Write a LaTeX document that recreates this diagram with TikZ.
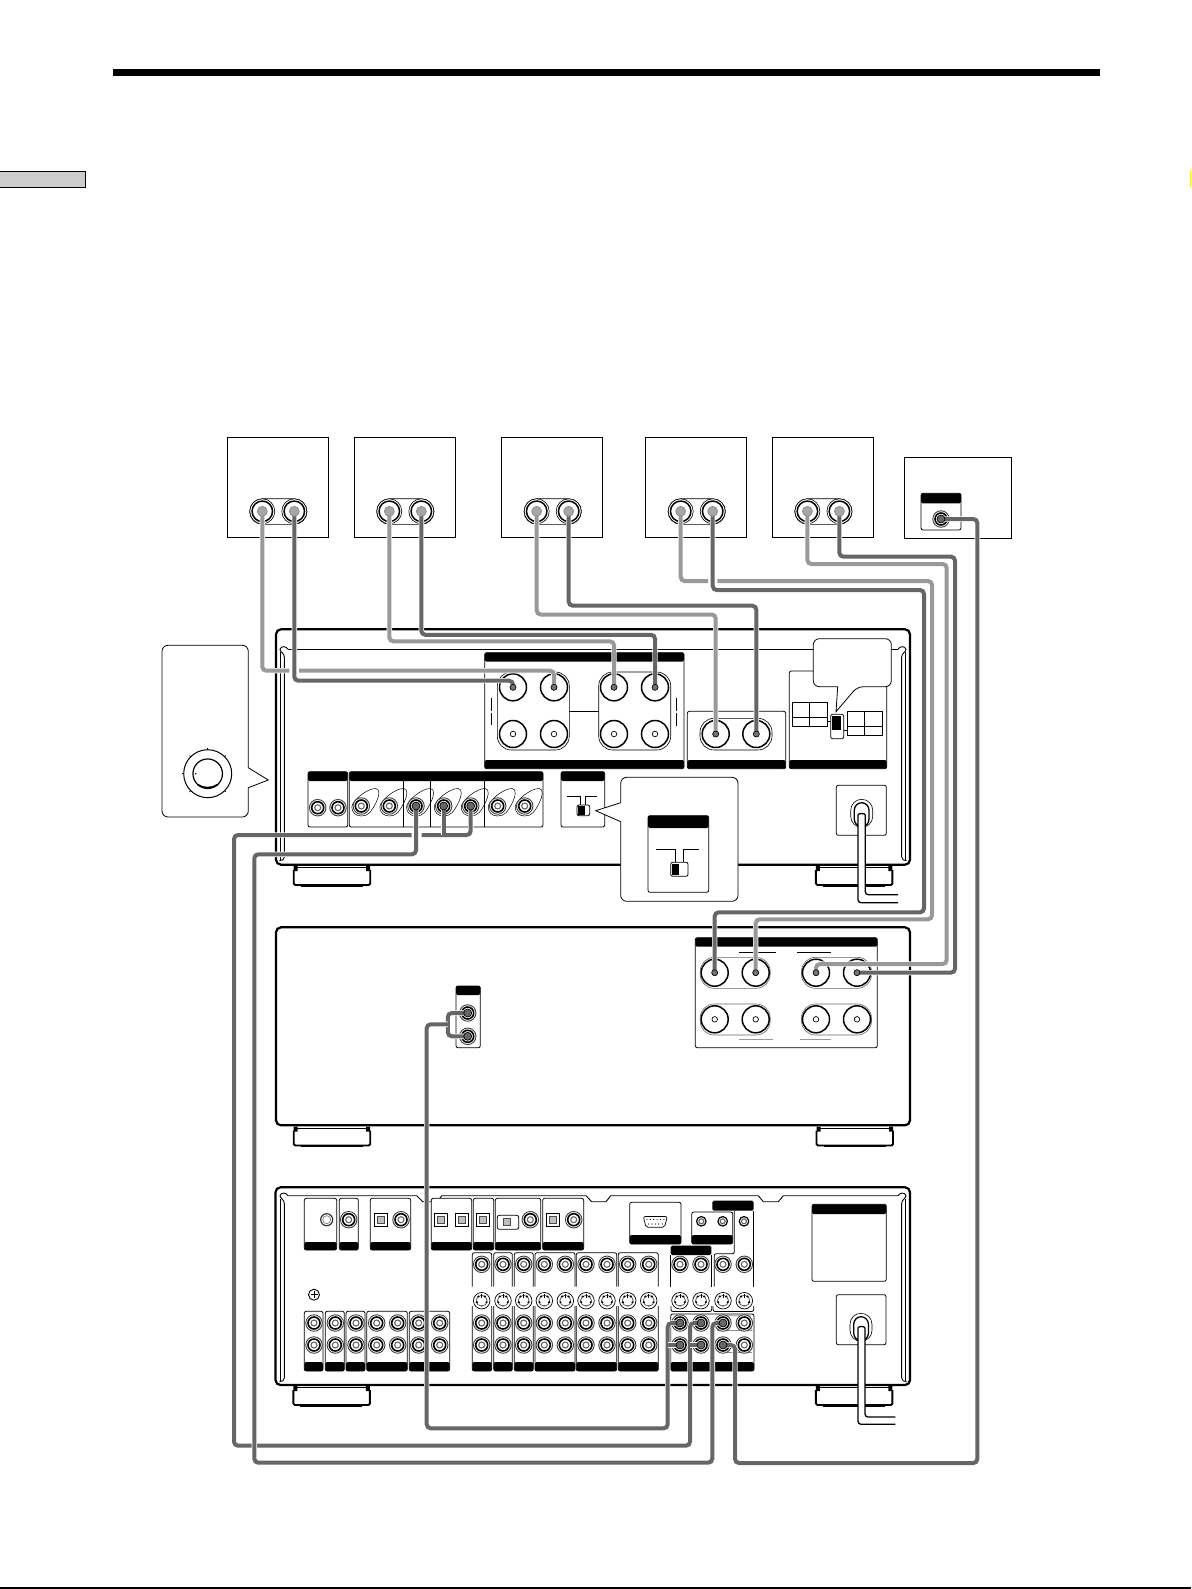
\documentclass[tikz,border=0pt]{standalone}
\definecolor{cblight}{HTML}{999999}
\definecolor{cbdark}{HTML}{666666}
\tikzset{
  body/.style={draw,line width=2.2pt,rounded corners=5pt,fill=white},
  rail/.style={draw,line width=0.9pt},
  panelline/.style={draw,line width=0.8pt,rounded corners=2pt},
  panelbar/.style={fill=black,rounded corners=1.5pt},
  bubble/.style={draw,line width=0.8pt,fill=white},
  thinrim/.style={draw,line width=0.6pt,rounded corners=#1},
  cablelight/.style={draw=cblight,line width=4pt,rounded corners=4pt,preaction={draw=white,line width=5.4pt}},
  cabledark/.style={draw=cbdark,line width=4pt,rounded corners=4pt,preaction={draw=white,line width=5.4pt}},
  post/.style={circle,draw,line width=1.5pt,inner sep=0pt,minimum size=27pt,fill=white},
  postpin/.style={circle,draw,line width=0.7pt,inner sep=0pt,minimum size=5.5pt,fill=white},
  postlive/.style={circle,draw,line width=0.6pt,inner sep=0pt,minimum size=6pt,fill=black!55},
  spkpost/.style={circle,draw,line width=1.5pt,inner sep=0pt,minimum size=20.5pt,fill=white},
  spkrim/.style={circle,draw,line width=0.6pt,inner sep=0pt,minimum size=25pt,fill=white},
  spkpin/.style={circle,draw=black!45,line width=0.7pt,inner sep=0pt,minimum size=10pt,fill=black!35},
  jackrim/.style={circle,draw=black!75,line width=0.9pt,inner sep=0pt,minimum size=16.5pt,fill=white},
  jackring/.style={circle,draw,line width=1.6pt,inner sep=0pt,minimum size=12pt,fill=white},
  jackpin/.style={circle,draw=black!60,line width=1.1pt,inner sep=0pt,minimum size=6pt,fill=white},
  jacklive/.style={circle,draw=black,line width=0.7pt,inner sep=0pt,minimum size=8pt,fill=black!60},
  plain/.style={circle,draw,line width=0.7pt,inner sep=0pt,minimum size=#1,fill=white},
  cordline/.style={draw,line width=1.3pt,fill=white,rounded corners=3pt},
}
\newcommand{\rcajack}[3]{%
  \node[jackrim] (#1) at (#2,#3) {};
  \node[jackring] (#1r) at (#2,#3) {};
  \node[jackpin] (#1p) at (#2,#3) {};}
\newcommand{\svideo}[3]{%
  \node[plain=16.5pt] (#1) at (#2,#3) {};
  \node[plain=11pt,draw=black!70,line width=0.7pt] (#1i) at (#2,#3) {};
  \fill (#2-3.2,#3-4.2) circle (1.2) (#2+3.2,#3-4.2) circle (1.2)
        (#2-4.8,#3+1.5) circle (1.2) (#2+4.8,#3+1.5) circle (1.2);
  \draw[line width=0.9pt] (#2,#3-7) -- (#2,#3-3);
  \fill[black!60] (#2-2,#3+4) rectangle (#2+2,#3+5.5);}
\newcommand{\optical}[3]{%
  \node[draw,line width=0.7pt,inner sep=0pt,minimum size=13pt,fill=white] (#1) at (#2,#3) {};
  \node[draw=black!70,line width=0.7pt,inner sep=0pt,minimum size=7pt,fill=black!25] (#1i) at (#2,#3) {};}
\newcommand{\foot}[2]{%
  \begin{scope}[shift={(#1,#2)}]
    \draw[line width=0.8pt] (2,1.5) -- (75,1.5);
    \draw[line width=1.9pt,rounded corners=1.5pt] (0,4) -- (0,19) -- (76.5,19) -- (76.5,4);
    \fill (0,0) rectangle (4,5) (72.5,0) rectangle (76.5,5);
    \draw[line width=1pt] (7,20) -- (69,20);
  \end{scope}}
\newcommand{\innerrail}[2]{%
  \draw[rail] (288,#1) .. controls (286,#1-3.5) and (281,#1-3.5) .. (280,#1)
    .. controls (280,#1+2.5) and (284.4,#1+4) .. (284.4,#1+8) -- (284.4,#2-4)
    .. controls (284.4,#2-1) and (282,#2) .. (279.5,#2);
  \draw[rail] (280.2,#1+3) -- (280.2,#2);
  \draw[rail] (898,#1) .. controls (900,#1-3.5) and (905,#1-3.5) .. (906,#1)
    .. controls (906,#1+2.5) and (901.6,#1+4) .. (901.6,#1+8) -- (901.6,#2-4)
    .. controls (901.6,#2-1) and (904,#2) .. (906.5,#2);
  \draw[rail] (905.8,#1+3) -- (905.8,#2);}
\begin{document}
\begin{tikzpicture}[x=1pt,y=-1pt]
  \useasboundingbox (0,0) rectangle (1191,1589);
  % page furniture
  \fill (113,69) rectangle (1100,76);
  \draw[fill=black!20,line width=1.2pt] (-2,171.7) rectangle (85.7,187.3);
  \draw[line width=1.6pt] (0,1588.2) -- (1191,1588.2);
  \draw[yellow,line width=0.8pt] (1190.4,170) -- (1190.4,187);

  % speakers
  \foreach \n/\x in {a/262.3,b/389.3,c/536.7,d/680.7,e/807.4} {
    \draw[line width=0.9pt] (\x-35,437.3) rectangle (\x+66,537.3);
    \draw[thinrim=12.8pt] (\x-12.7,498.7) rectangle (\x+44.7,524.3);
    \node[spkrim] (sp\n Lr) at (\x,511.3) {};
    \node[spkrim] (sp\n Rr) at (\x+32,511.3) {};
    \node[spkpost] (sp\n L) at (\x,511.3) {};
    \node[spkpost] (sp\n R) at (\x+32,511.3) {};
  }
  % subwoofer
  \draw[line width=0.9pt] (904.3,457.3) rectangle (1011.7,538.3);
  \draw[panelline] (921,493.3) rectangle (961,530);
  \fill[panelbar] (921,493.3) rectangle (961,503.3);
  \rcajack{subw}{941}{519}

  % first amplifier
  \draw[body] (276,629.3) rectangle (910,864.7);
  \innerrail{649.3}{860.7}
  \draw[rail] (288,649.3) -- (898,649.3);
  \foot{293.7}{866}
  \foot{815.9}{866}
  % speaker terminals
  \draw[panelline,fill=white] (484.7,652.7) rectangle (684,768.7);
  \fill[panelbar] (484.7,652.7) rectangle (684,661.7);
  \fill[panelbar] (484.7,760) rectangle (684,768.7);
  \draw[thinrim=14pt] (497.3,672) rectangle (569.3,750);
  \draw[thinrim=14pt] (598.7,672) rectangle (670.7,750);
  \draw[line width=0.6pt] (569.3,711) -- (598.7,711);
  \draw[line width=0.6pt] (491.3,698.3) -- (491.3,710.7) (491.3,713.3) -- (491.3,725.3);
  \draw[line width=0.6pt] (676.3,697.7) -- (676.3,710.7) (676.3,713.3) -- (676.3,725.7);
  \draw[panelline] (687.3,711.3) rectangle (785.7,768.7);
  \fill[panelbar] (687.3,760) rectangle (785.7,768.7);
  \draw[thinrim=14pt] (700,718.3) rectangle (772,750);
  \foreach \n/\x/\y in {ta/513/687.3,tb/554/687.3,tc/614/687.3,td/655/687.3,
                        te/513/734,tf/554/734,tg/614/734,th/655/734,
                        ti/715.7/734,tj/756.3/734} {
    \node[post] (\n) at (\x,\y) {};
    \node[postpin] (\n p) at (\x,\y) {};
  }
  % impedance selector
  \draw[panelline,fill=white] (789.3,671) rectangle (886.7,768.7);
  \fill[panelbar] (789.3,760) rectangle (886.7,768.7);
  \foreach \xa/\ya in {792.3/702.3,847.3/711.3} {
    \draw[line width=0.7pt] (\xa,\ya) rectangle (\xa+35,\ya+24);
    \draw[line width=0.7pt] (\xa,\ya+15) -- (\xa+35,\ya+15) (\xa+17.4,\ya) -- (\xa+17.4,\ya+24);
  }
  \draw[line width=0.7pt] (827.3,721.7) -- (830.7,721.7) (843.7,730.7) -- (847.3,730.7);
  \draw[panelline,fill=white] (830.7,714.3) rectangle (843.7,738.7);
  \fill (832.3,716) rectangle (841.3,729.7);
  % inputs
  \draw[panelline] (308,771.7) rectangle (347.7,827);
  \fill[panelbar] (308,771.7) rectangle (347.7,781);
  \draw[panelline] (349.3,771.7) rectangle (543,827);
  \fill[panelbar] (349.3,771.7) rectangle (543,781);
  \foreach \x in {403.3,430.3,484.3}
    \draw[line width=0.7pt] (\x,781) -- (\x,827);
  \foreach \n/\x in {ia/361.3,ib/389.3,ic/416,id/443.7,ie/470.7,if/497.7,ig/524.7} {
    \begin{scope}[shift={(\x,806)}]
      \draw[line width=0.5pt] (-9.5,1) .. controls (-9.5,-5) and (6,-18) .. (14.5,-17.5)
        .. controls (19,-17) and (18,-10) .. (15,-4) .. controls (10,6) and (7,10) .. (0,10)
        .. controls (-6,10) and (-9.5,6) .. cycle;
    \end{scope}
    \rcajack{\n}{\x}{806}
  }
  \rcajack{ga}{317.7}{807.7}
  \rcajack{gb}{338}{807.7}
  \draw[panelline] (561,771.7) rectangle (604.7,827);
  \fill[panelbar] (561,771.7) rectangle (604.7,781);
  \draw[line width=0.7pt] (566.5,796) -- (580,796) -- (580,805) (597,796) -- (585.5,796) -- (585.5,805);
  \draw[panelline,fill=white] (577,805) rectangle (589.7,815.7);
  \fill (578,806) rectangle (584.5,814.7);
  % mains
  \draw[panelline] (836.3,785.3) rectangle (886.3,835.3);
  \draw[thinrim=11pt] (850.7,799.3) rectangle (872.7,827.3);
  \draw[line width=1.3pt,rounded corners=7.5pt] (854.3,802.7) rectangle (869,826.7);
  \draw[cordline] (898,902.7) -- (858,902.7) -- (858,818) .. controls (858,813) and (865.3,813) .. (865.3,818) -- (865.3,894.7) -- (898,894.7);

  % second amplifier
  \draw[body] (276,927.3) rectangle (910,1125.3);
  \foot{293.7}{1126.5}
  \foot{816.5}{1126.5}
  \draw[panelline] (456,986) rectangle (480.3,1047.7);
  \fill[panelbar] (456,986) rectangle (480.3,995);
  \rcajack{xa}{467.7}{1013}
  \rcajack{xb}{467.7}{1036.3}
  \draw[panelline] (695.3,937.7) rectangle (877.3,1047.7);
  \fill[panelbar] (695.3,937.7) rectangle (877.3,946.7);
  \foreach \xa in {714.7,816} {
    \draw[thinrim=14pt,draw=black!60] (\xa-14.5,957.3) rectangle (\xa+55.5,988.3);
    \draw[thinrim=14pt,draw=black!60] (\xa-14.5,1004) rectangle (\xa+55.5,1035);
  }
  \foreach \n/\x/\y in {ua/714.7/972.7,ub/755.7/972.7,uc/816/972.7,ud/857/972.7,
                        ue/714.7/1019.3,uf/755.7/1019.3,ug/816/1019.3,uh/857/1019.3} {
    \node[post] (\n) at (\x,\y) {};
    \node[postpin] (\n p) at (\x,\y) {};
  }
  \draw[line width=0.7pt] (739,952.3) -- (775.7,952.3) (797,952.3) -- (831,952.3);
  \draw[line width=1.1pt,black!40] (739,1039.7) -- (772.7,1039.7) (800,1039.7) -- (831,1039.7);

  % third amplifier
  \draw[body] (275.5,1187.3) rectangle (910,1385);
  \innerrail{1195.7}{1381.7}
  \draw[rail] (288,1195.7) -- (416.7,1195.7) -- (422.7,1201.7) -- (437.7,1201.7) -- (441.7,1195.7)
    -- (586,1195.7) -- (591.7,1201.7) -- (606,1201.7) -- (610.7,1195.7)
    -- (758.3,1195.7) -- (763.3,1201.7) -- (778.3,1201.7) -- (783.3,1195.7) -- (898,1195.7);
  \foot{293.4}{1386}
  \foot{815.9}{1386}
  % top row
  \foreach \xa/\xb in {304.3/336.7,339.3/358.3,370.3/410.7,431.3/471.7,473.3/493.7,495.3/540.7,542.7/583.7} {
    \draw[panelline,fill=white] (\xa,1198.3) rectangle (\xb,1250);
    \fill[panelbar] (\xa,1242) rectangle (\xb,1250);
  }
  \node[plain=12pt,line width=1.2pt,draw=black!80] (ra) at (326.7,1219.7) {};
  \node[plain=8pt,draw=black!50] (rai) at (326.7,1219.7) {};
  \rcajack{rb}{348.7}{1219.7}
  \rcajack{rc}{401}{1219.7}
  \rcajack{rd}{530.3}{1219.7}
  \rcajack{re}{573.7}{1219.7}
  \optical{oa}{381.3}{1219.7}
  \optical{ob}{441.3}{1219.7}
  \optical{oc}{462}{1219.7}
  \optical{od}{482.7}{1219.7}
  \draw[panelline] (497.3,1215.3) rectangle (518.7,1229.3);
  \node[draw=black!70,line width=0.7pt,inner sep=0pt,minimum size=7pt,fill=black!25] (oe) at (507.3,1222.3) {};
  \optical{of}{552.7}{1219.7}
  % serial port
  \draw[panelline] (629.7,1202.3) rectangle (681,1244);
  \fill[panelbar] (629.7,1235) rectangle (681,1244);
  \draw[line width=0.7pt,rounded corners=2pt] (643.3,1216.5) -- (667.3,1216.5) -- (664.5,1227.3) -- (646,1227.3) -- cycle;
  \foreach \x in {646.9,650.3,653.7,657.1,660.5,663.9}
    \fill (\x,1219.5) circle (0.6);
  \foreach \x in {648.6,652,655.4,658.8,662.2}
    \fill (\x,1224) circle (0.6);
  % control in/out
  \draw[panelline] (691.7,1212) rectangle (732.7,1244);
  \fill[panelbar] (691.7,1235) rectangle (732.7,1244);
  \node[jackring,minimum size=9.5pt,line width=1.2pt] (cta) at (701.3,1221.3) {};
  \node[jackpin,minimum size=5pt] (ctap) at (701.3,1221.3) {};
  \node[jackring,minimum size=9.5pt,line width=1.2pt] (ctb) at (722.7,1221.3) {};
  \node[jackpin,minimum size=5pt] (ctbp) at (722.7,1221.3) {};
  \node[jackring,minimum size=9.5pt,line width=1.2pt] (ctc) at (744,1221.3) {};
  \node[jackpin,minimum size=5pt] (ctcp) at (744,1221.3) {};
  \fill[panelbar] (712.3,1200.7) rectangle (753.7,1210.7);
  \draw[panelline] (734.3,1210.7) -- (734.3,1253.7) -- (714.3,1253.7) -- (714.3,1286.7);
  \draw[panelline] (753.7,1210.7) -- (753.7,1286.7);
  % lower left
  \foreach \xa/\xb in {304.3/323,325.3/344.3,346/365,366.7/407.3,409.3/449.7} {
    \draw[panelline] (\xa,1311.3) rectangle (\xb,1371);
    \fill[panelbar] (\xa,1362) rectangle (\xb,1371);
  }
  \foreach \x [count=\i] in {314,335.3,356,376.7,397.7,418.7,439.7} {
    \rcajack{la\i}{\x}{1323}
    \rcajack{lb\i}{\x}{1345}
  }
  \node[plain=11pt,line width=0.9pt] (screw) at (314,1294.7) {};
  \draw[line width=1pt] (310.5,1294.7) -- (317.5,1294.7) (314,1291.2) -- (314,1298.2);
  % video groups
  \foreach \xa/\xb in {472.3/491.7,493.7/512.3,514.3/533.3,535/575,576.3/616.7,618.3/658.3} {
    \draw[panelline] (\xa,1286.7) -- (\xa,1252.7) -- (\xb,1252.7) -- (\xb,1286.7);
    \draw[panelline] (\xa,1306) -- (\xa,1371) -- (\xb,1371) -- (\xb,1306);
    \fill[panelbar] (\xa,1362) rectangle (\xb,1371);
  }
  \foreach \x [count=\i] in {481.7,503,523.7,544.3,565.3,586,607,627.7,648.7} {
    \rcajack{va\i}{\x}{1264.3}
    \svideo{vs\i}{\x}{1300.7}
    \rcajack{vb\i}{\x}{1323}
    \rcajack{vc\i}{\x}{1345}
  }
  % monitor groups
  \fill[panelbar] (670.7,1245.7) rectangle (711.3,1255);
  \draw[panelline] (670.7,1255) -- (670.7,1286.7) (711.3,1255) -- (711.3,1286.7);
  \draw[panelline] (671,1306) -- (671,1311.5) -- (711.7,1311.5) -- (711.7,1306);
  \draw[panelline] (713,1306) -- (713,1311.5) -- (753.7,1311.5) -- (753.7,1306);
  \draw[panelline] (670.7,1314) rectangle (754,1371);
  \fill[panelbar] (670.7,1362) rectangle (754,1371);
  \draw[line width=0.6pt,black!45] (720,1315.7) -- (750,1315.7) -- (752,1330.5) -- (717,1330.5);
  \draw[line width=0.6pt,black!45] (725,1352) -- (752,1352);
  \foreach \x [count=\i] in {680,701,723,744.3} {
    \rcajack{wa\i}{\x}{1264.3}
    \svideo{ws\i}{\x}{1300.7}
    \rcajack{wb\i}{\x}{1323}
    \rcajack{wc\i}{\x}{1345}
  }
  % rating plate and mains
  \draw[panelline] (812,1204.3) rectangle (886.3,1281.3);
  \fill[panelbar] (812,1204.3) rectangle (886.3,1214);
  \draw[panelline] (836.3,1294.7) rectangle (886,1344.7);
  \draw[thinrim=11pt] (850,1313.3) rectangle (872,1341.3);
  \draw[line width=1.3pt,rounded corners=7.5pt] (853.7,1316.7) rectangle (868.4,1340.7);
  \draw[cordline] (895.3,1424.3) -- (858,1424.3) -- (858,1331) .. controls (858,1326) and (865,1326) .. (865,1331) -- (865,1417) -- (895.3,1417);

  % cables
  \draw[cablelight] (spaL.center) -- (262.3,670.7) -- (289.3,670.7);
  \draw[cablelight] (299,670.7) -- (554,670.7) -- (tb.center);
  \draw[cabledark] (spaR.center) -- (294.3,680.7) -- (513,680.7) -- (ta.center);
  \draw[cablelight] (spbL.center) -- (389.3,641.3) -- (614,641.3) -- (tc.center);
  \draw[cabledark] (spbR.center) -- (421.3,634.8) -- (655,634.8) -- (td.center);
  \draw[cablelight] (spcL.center) -- (536.7,614.5) -- (715.7,614.5) -- (ti.center);
  \draw[cabledark] (spcR.center) -- (568.7,605.7) -- (756.3,605.7) -- (tj.center);
  \draw[cablelight] (spdL.center) -- (680.7,581) -- (708,581);
  \draw[cablelight] (717.3,581) -- (932,581) -- (932,919.3) -- (755.7,919.3) -- (ub.center);
  \draw[cabledark] (spdR.center) -- (712.7,590) -- (924,590) -- (924,912.3) -- (714.7,912.3) -- (ua.center);
  \draw[cablelight] (speL.center) -- (807.4,564) -- (946.7,564) -- (946.7,964) -- (816,964) -- (uc.center);
  \draw[cabledark] (speR.center) -- (839.4,556.7) -- (955,556.7) -- (955,972.7) -- (ud.center);
  \draw[cabledark] (subw.center) -- (977.3,519) -- (977.3,1463) -- (735,1463) -- (735,1345) -- (wc3.center);
  % monitor feeds
  \draw[cabledark] (xa.center) -- (447.8,1013) -- (447.8,1036.3) -- (xb.center);
  \draw[cabledark] (447.8,1024.3) -- (426.7,1024.3) -- (426.7,1428.3) -- (667.7,1428.3) -- (667.7,1323) -- (wb1.center);
  \draw[cabledark,rounded corners=0pt] (667.7,1345) -- (wc1.center);
  \draw[cabledark] (ie.center) -- (470.7,835) -- (421.7,835);
  \draw[cabledark] (id.center) -- (443.7,835);
  \draw[cabledark] (411.7,835) -- (234,835) -- (234,1445.7) -- (690,1445.7) -- (690,1323) -- (wb2.center);
  \draw[cabledark,rounded corners=0pt] (690,1345) -- (wc2.center);
  \draw[cabledark] (ic.center) -- (416,854.3) -- (254.3,854.3) -- (254.3,1462.7) -- (712.3,1462.7) -- (712.3,1323) -- (wb3.center);

  % pins on the cabled terminals
  \foreach \n in {ta,tb,tc,td,ti,tj,ua,ub,uc,ud}
    \node[postlive] (\n d) at (\n.center) {};
  \foreach \n in {spaL,spaR,spbL,spbR,spcL,spcR,spdL,spdR,speL,speR}
    \node[spkpin] (\n d) at (\n.center) {};
  \foreach \n in {ic,id,ie,xa,xb,subw,wb1,wb2,wb3,wc1,wc2,wc3}
    \node[jacklive] (\n d) at (\n.center) {};

  % callouts
  \draw[bubble,rounded corners=6pt] (162,645.3) -- (248.3,645.3) [sharp corners] -- (248.3,767.7) -- (268.3,780) -- (248.3,787.7) [rounded corners=6pt] -- (248.3,817) -- (162,817) -- cycle;
  \node[circle,draw,line width=1pt,inner sep=0pt,minimum size=48pt] (knob) at (207.7,773.7) {};
  \node[circle,draw,line width=1.2pt,inner sep=0pt,minimum size=29.5pt] (knobcap) at (207.7,773.7) {};
  \draw[line width=1.6pt] (197.8,784.6) .. controls (203,788.6) and (212,788.6) .. (217.6,784.6);
  \foreach \a in {-180,-135,-90,-45,45,135}
    \draw[line width=0.6pt] (knob.center) ++ (\a:24) -- ++ (\a:1.8);
  \fill (195.8,773.7) circle (0.9);

  \draw[bubble,rounded corners=6pt] (620.7,777.3) -- (738,777.3) -- (738,901.3) -- (620.7,901.3) [sharp corners] -- (620.7,821.7) -- (595.7,810.7) -- (620.7,802.7) [rounded corners=6pt] -- cycle;
  \draw[panelline] (648,815.7) rectangle (708.7,892.3);
  \fill[panelbar] (648,815.7) rectangle (708.7,828);
  \draw[line width=0.7pt] (656,849.7) -- (675,849.7) -- (675,862) (698.7,849.7) -- (683.3,849.7) -- (683.3,862);
  \draw[panelline,fill=white] (670.7,862.3) rectangle (688,876.3);
  \fill (672.3,864) rectangle (679,875);

  \draw[bubble,rounded corners=6pt] (813.3,638.7) -- (891.3,638.7) -- (891.3,686.7) -- (857.3,686.7) [sharp corners] -- (836,711.7) -- (837.7,686.7) [rounded corners=6pt] -- (813.3,686.7) -- cycle;
\end{tikzpicture}
\end{document}
